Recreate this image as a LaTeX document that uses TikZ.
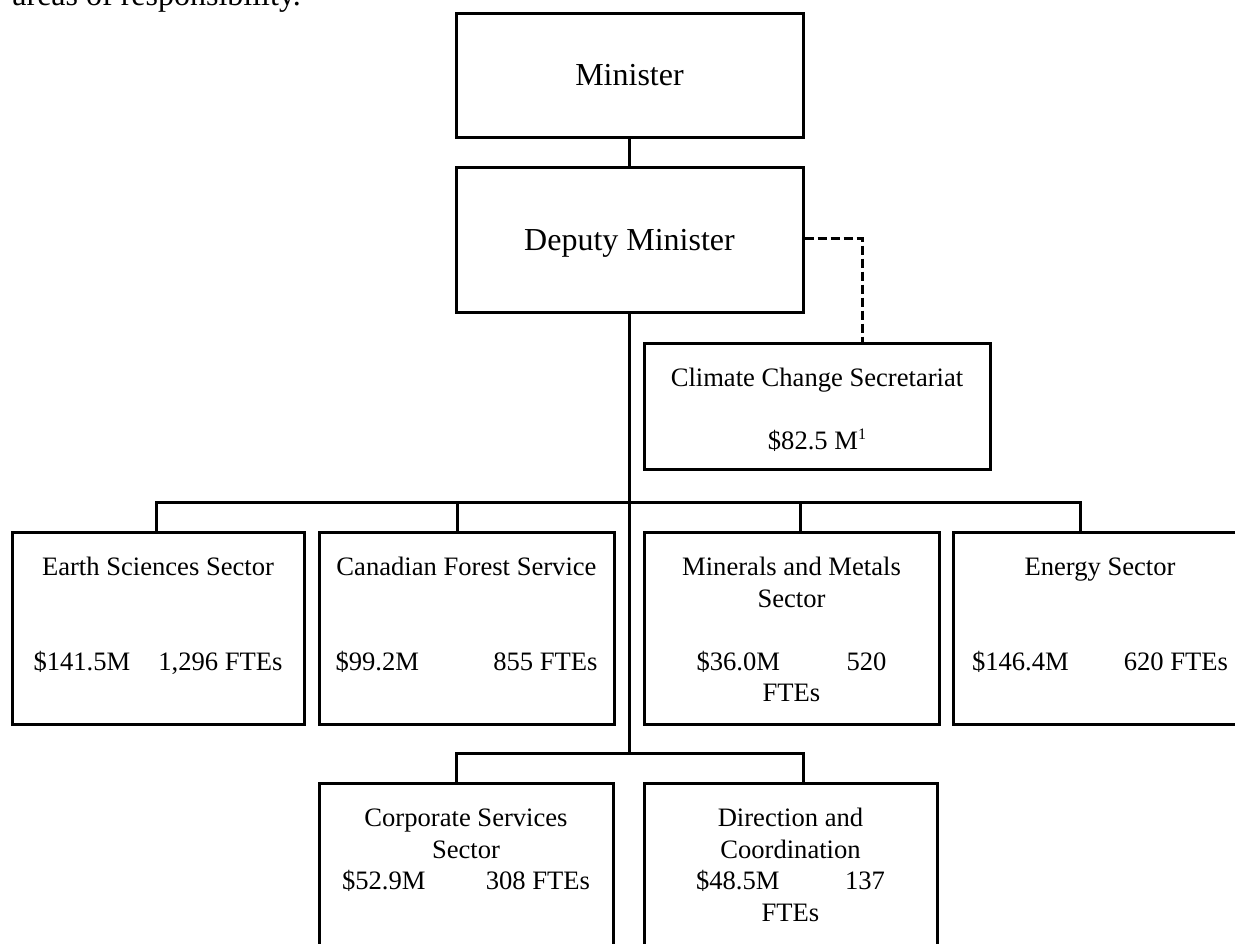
\documentclass[tikz,border=0pt]{standalone}
\usepackage{fontspec}
\setmainfont{Liberation Serif}
\usepackage{tikz}
\usetikzlibrary{positioning}

\newcommand\headfont{\fontsize{16pt}{18.4pt}\selectfont}
\newcommand\unitfont{\fontsize{13.3pt}{15.75pt}\selectfont}

\begin{document}
\begin{tikzpicture}[
  x=0.5pt, y=-0.5pt,
  unit/.style={draw, line width=1.5pt, inner sep=0pt},
  head/.style={unit, minimum width=173.5pt, font=\headfont, text depth=0pt},
  sector/.style={unit, minimum height=96pt},
  txt/.style={font=\unitfont, align=center, inner sep=0pt, anchor=north, yshift=-11.5pt},
  link/.style={line width=1.5pt},
  dashlink/.style={line width=1.5pt, dash pattern=on 4.5pt off 2pt},
]
\useasboundingbox (0,0) rectangle (1235,943);
\clip (0,0) rectangle (1235,943);

\node[anchor=base west, font=\headfont, inner sep=0pt] (intro) at (12,5) {areas of responsibility.};

% executive
\node[head, minimum height=62pt]   (minister) at (629.5,75)    {Minister};
\node[head, minimum height=72.5pt] (deputy)   at (629.5,239.5) {Deputy Minister};
\node[unit, minimum width=173pt, minimum height=63pt] (climate) at (817,406) {};
\node[txt] (climate-t) at (climate.north)
  {\strut Climate Change Secretariat\\[15.75pt]\$82.5 M{\fontsize{8pt}{8pt}\selectfont\raisebox{5pt}{1}}};

% sectors
\node[sector, minimum width=146pt]   (earth)    at (158,628)    {};
\node[sector, minimum width=147.5pt] (forest)   at (466.5,628)  {};
\node[sector, minimum width=147.5pt] (minerals) at (791.5,628)  {};
\node[sector, minimum width=147pt]   (energy)   at (1100,628)   {};
\node[sector, minimum width=147pt]   (corporate) at (466,879)   {};
\node[sector, minimum width=146.5pt] (direction) at (790.5,879) {};

\node[txt] (earth-t) at (earth.north)
  {\strut Earth Sciences Sector\\[31.5pt]\makebox[124.5pt]{\$141.5M\hfill 1,296 FTEs}};
\node[txt] (forest-t) at (forest.north)
  {\strut Canadian Forest Service\\[31.5pt]\makebox[131pt]{\$99.2M\hfill 855 FTEs}};
\node[txt] (minerals-t) at (minerals.north)
  {\strut Minerals and Metals\\Sector\\[15.75pt]\makebox[95pt]{\$36.0M\hfill 520}\\FTEs};
\node[txt] (energy-t) at (energy.north)
  {\strut Energy Sector\\[31.5pt]\makebox[128pt]{\$146.4M\hfill 620 FTEs}};
\node[txt] (corporate-t) at (corporate.north)
  {\strut Corporate Services\\Sector\\\makebox[124pt]{\$52.9M\hfill 308 FTEs}};
\node[txt] (direction-t) at (direction.north)
  {\strut Direction and\\Coordination\\\makebox[94.5pt]{\$48.5M\hfill 137}\\FTEs};

% bus points
\coordinate (dm) at (862,238);
\coordinate (lowbus) at (629.5,753);
\coordinate (b1) at (156,502);
\coordinate (b2) at (457,502);
\coordinate (b3) at (800,502);
\coordinate (b4) at (1080,502);
\coordinate (c1) at (456,753);
\coordinate (c2) at (803,753);

\draw[link] (minister) -- (deputy);
\draw[link] (deputy.south) -- (lowbus);
\draw[dashlink] (deputy.east |- dm) -- (dm) -- (dm |- climate.north);
\draw[link] (b1 |- earth.north) -- (b1) -- (b4) -- (b4 |- energy.north);
\draw[link] (b2) -- (b2 |- forest.north);
\draw[link] (b3) -- (b3 |- minerals.north);
\draw[link] (c1 |- corporate.north) -- (c1) -- (c2) -- (c2 |- direction.north);
\end{tikzpicture}
\end{document}
